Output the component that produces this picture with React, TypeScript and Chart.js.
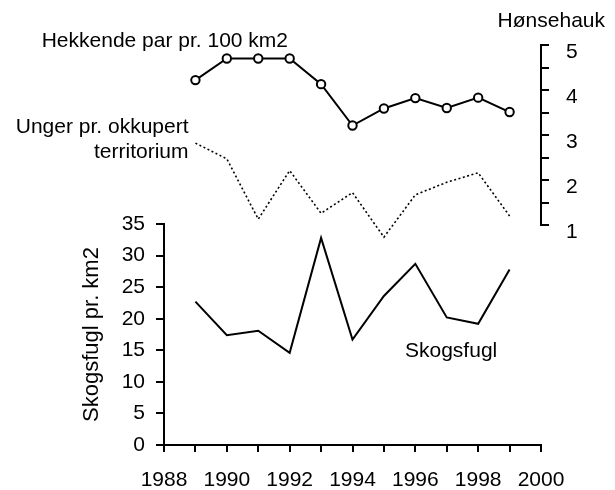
import React, { useEffect, useRef } from "react";
import { Chart, registerables } from "chart.js";

Chart.register(...registerables);

const years = [1989, 1990, 1991, 1992, 1993, 1994, 1995, 1996, 1997, 1998, 1999];
const hekkendePar = [4.22, 4.7, 4.7, 4.7, 4.13, 3.21, 3.59, 3.82, 3.6, 3.83, 3.51];
const ungerPrTerritorium = [2.82, 2.47, 1.13, 2.21, 1.26, 1.72, 0.73, 1.67, 1.95, 2.16, 1.2];
const skogsfugl = [22.7, 17.4, 18.1, 14.6, 32.8, 16.7, 23.6, 28.7, 20.2, 19.2, 27.8];

const xRange = [1988, 2000];
const xTicks = [1988, 1989, 1990, 1991, 1992, 1993, 1994, 1995, 1996, 1997, 1998, 1999, 2000];
const xLabels = [1988, 1990, 1992, 1994, 1996, 1998, 2000];
const leftRange = [0, 35];
const leftTicks = [0, 5, 10, 15, 20, 25, 30, 35];
const rightRange = [1, 5];
const rightTicks = [1, 1.5, 2, 2.5, 3, 3.5, 4, 4.5, 5];
const rightLabels = [1, 2, 3, 4, 5];

const FONT = '"Liberation Sans", Arial, Helvetica, sans-serif';

const annotations = {
  id: "annotations",
  afterDraw(chart: any) {
    const ctx = chart.ctx;
    ctx.save();
    ctx.fillStyle = "#000";
    ctx.font = `21px ${FONT}`;
    ctx.textBaseline = "alphabetic";
    ctx.textAlign = "right";
    ctx.fillText("Hønsehauk", 605, 26.5);
    ctx.fillText("Unger pr. okkupert", 188.5, 133.3);
    ctx.fillText("territorium", 188.5, 158.3);
    ctx.textAlign = "left";
    ctx.fillText("Hekkende par pr. 100 km2", 41.7, 46.7);
    ctx.fillText("Skogsfugl", 405, 356.7);
    ctx.restore();
  },
};

export default function App() {
  const ref = useRef<HTMLCanvasElement | null>(null);

  useEffect(() => {
    if (!ref.current) return;
    const pts = (vals: number[]) => years.map((x, i) => ({ x, y: vals[i] }));
    const axisCommon = {
      border: { display: true, color: "#000", width: 2 },
      grid: { drawOnChartArea: false, drawTicks: true, color: "#000", tickColor: "#000", tickWidth: 2, lineWidth: 2 },
    };
    const tickFont = { size: 21, family: FONT };
    const chart = new Chart(ref.current, {
      type: "line",
      data: {
        datasets: [
          {
            label: "Hekkende par pr. 100 km2",
            data: pts(hekkendePar),
            yAxisID: "yR",
            borderColor: "#000",
            borderWidth: 2,
            pointRadius: 4.2,
            pointBackgroundColor: "#fff",
            pointBorderColor: "#000",
            pointBorderWidth: 2,
            tension: 0,
            clip: false,
          },
          {
            label: "Unger pr. okkupert territorium",
            data: pts(ungerPrTerritorium),
            yAxisID: "yR",
            borderColor: "#000",
            borderWidth: 1.6,
            borderDash: [2, 2.5],
            pointRadius: 0,
            tension: 0,
            clip: false,
          },
          {
            label: "Skogsfugl",
            data: pts(skogsfugl),
            yAxisID: "yL",
            borderColor: "#000",
            borderWidth: 2,
            pointRadius: 0,
            tension: 0,
            clip: false,
          },
        ],
      },
      options: {
        animation: false,
        responsive: false,
        events: [],
        layout: { padding: { top: 45, left: 0, right: 0, bottom: 0 } },
        plugins: { legend: { display: false }, tooltip: { enabled: false } },
        scales: {
          x: {
            type: "linear",
            position: "bottom",
            min: xRange[0],
            max: xRange[1],
            ...axisCommon,
            grid: { ...axisCommon.grid, tickLength: 7 },
            afterBuildTicks: (s: any) => {
              s.ticks = xTicks.map((value) => ({ value }));
            },
            ticks: {
              autoSkip: false,
              maxRotation: 0,
              padding: 16,
              color: "#000",
              font: tickFont,
              callback: (v: any) => (xLabels.includes(Number(v)) ? String(v) : ""),
            },
            afterFit: (s: any) => {
              s.height = 45;
            },
          },
          yL: {
            type: "linear",
            position: "left",
            stack: "left",
            stackWeight: 221,
            min: leftRange[0],
            max: leftRange[1],
            ...axisCommon,
            grid: { ...axisCommon.grid, tickLength: 8 },
            afterBuildTicks: (s: any) => {
              s.ticks = leftTicks.map((value) => ({ value }));
            },
            ticks: {
              autoSkip: false,
              padding: 11,
              color: "#000",
              font: tickFont,
              callback: (v: any) => String(v),
            },
            title: {
              display: true,
              text: "Skogsfugl pr. km2",
              color: "#000",
              font: { size: 22, family: FONT },
              padding: { top: 79, bottom: 0 },
            },
            afterFit: (s: any) => {
              s.width = 164;
            },
          },
          yLtop: {
            type: "linear",
            position: "left",
            stack: "left",
            stackWeight: 179,
            display: false,
            min: 0,
            max: 1,
            afterFit: (s: any) => {
              s.width = 164;
            },
          },
          yR: {
            type: "linear",
            position: "right",
            stack: "right",
            stackWeight: 180,
            min: rightRange[0],
            max: rightRange[1],
            ...axisCommon,
            grid: { ...axisCommon.grid, tickLength: 8 },
            afterBuildTicks: (s: any) => {
              s.ticks = rightTicks.map((value) => ({ value }));
            },
            ticks: {
              autoSkip: false,
              padding: 17,
              labelOffset: 7,
              color: "#000",
              font: tickFont,
              callback: (v: any) => (rightLabels.includes(Number(v)) ? String(v) : ""),
            },
            afterFit: (s: any) => {
              s.width = 74;
            },
          },
          yRbot: {
            type: "linear",
            position: "right",
            stack: "right",
            stackWeight: 220,
            display: false,
            min: 0,
            max: 1,
            afterFit: (s: any) => {
              s.width = 74;
            },
          },
        },
      } as any,
      plugins: [annotations],
    });
    return () => chart.destroy();
  }, []);

  return (
    <div style={{ position: "fixed", left: 0, top: 0, width: 615, height: 490, background: "#fff" }}>
      <canvas ref={ref} width={615} height={490} style={{ display: "block" }} />
    </div>
  );
}
